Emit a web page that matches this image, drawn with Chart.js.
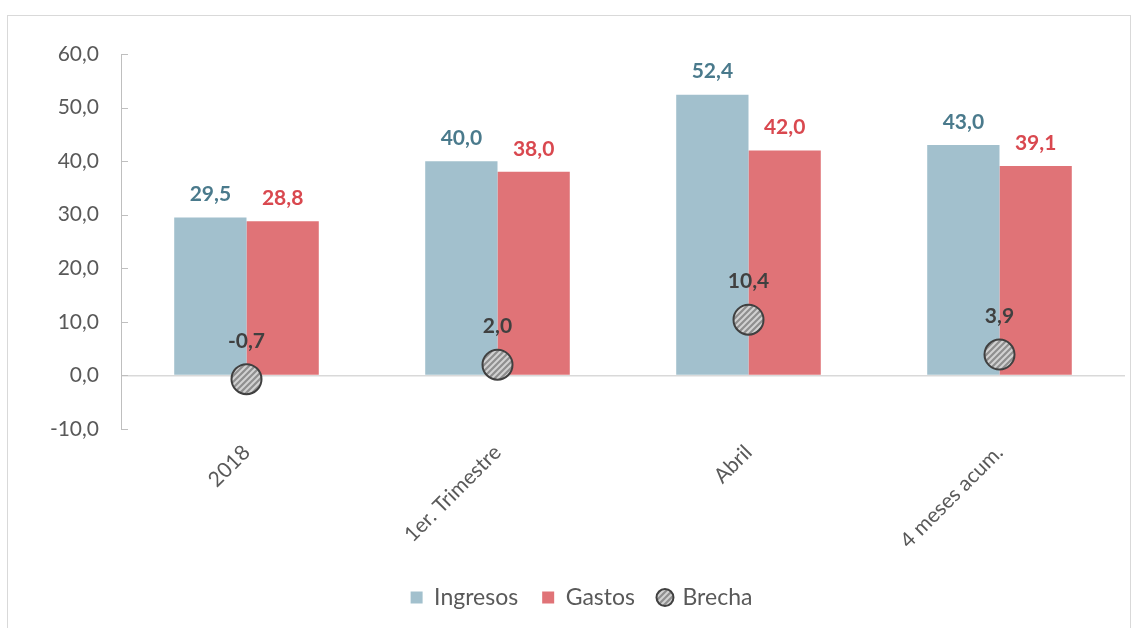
<!DOCTYPE html>
<html><head><meta charset="utf-8">
<script src="https://cdn.jsdelivr.net/npm/chart.js@4"></script>
<style>
html,body{margin:0;padding:0;background:#fff;}
#wrap{position:relative;width:1135px;height:628px;}
#frame{position:absolute;left:7px;top:15px;width:1124px;height:620px;border:1px solid #d9d9d9;box-sizing:border-box;}
canvas{position:absolute;left:0;top:0;}
</style></head>
<body><div id="wrap"><div id="frame"></div><canvas id="c" width="1135" height="628"></canvas></div>
<script>
const categories = ['2018', '1er. Trimestre', 'Abril', '4 meses acum.'];
const ingresos = [29.5, 40.0, 52.4, 43.0];
const gastos = [28.8, 38.0, 42.0, 39.1];
const brecha = [-0.7, 2.0, 10.4, 3.9];
const yMin = -10, yMax = 60, yStep = 10;

const FONT = 'Lato, "Open Sans", sans-serif';
const fmt = v => v.toFixed(1).replace('.', ',');

const pc = document.createElement('canvas');
pc.width = 6; pc.height = 6;
const p = pc.getContext('2d');
p.fillStyle = '#8f8f8f'; p.fillRect(0,0,6,6);
p.strokeStyle = '#d2d2d2'; p.lineWidth = 2;
p.beginPath();
p.moveTo(-1,7); p.lineTo(7,-1);
p.moveTo(-4,4); p.lineTo(4,-4);
p.moveTo(2,10); p.lineTo(10,2);
p.stroke();
const stripes = p.createPattern(pc, 'repeat');

const labelColors = ['#4a7a8c', '#d9484f', '#404040'];
const labelOffsets = [23, 23, 38];

const innerTicks = {
  id: 'innerTicks',
  beforeDatasetsDraw(chart) {
    const y = chart.scales.y, ctx = chart.ctx;
    ctx.save();
    ctx.strokeStyle = '#bfbfbf'; ctx.lineWidth = 1;
    y.ticks.forEach(t => {
      const py = Math.round(y.getPixelForValue(t.value)) + 0.5;
      ctx.beginPath(); ctx.moveTo(y.right, py); ctx.lineTo(y.right + 7, py); ctx.stroke();
    });
    ctx.restore();
  }
};

const valueLabels = {
  id: 'valueLabels',
  afterDatasetsDraw(chart) {
    const ctx = chart.ctx;
    ctx.save();
    ctx.font = 'bold 21px ' + FONT;
    ctx.textAlign = 'center';
    ctx.textBaseline = 'middle';
    chart.data.datasets.forEach((ds, i) => {
      const meta = chart.getDatasetMeta(i);
      meta.data.forEach((el, j) => {
        ctx.fillStyle = labelColors[i];
        ctx.fillText(fmt(ds.data[j]), el.x, el.y - labelOffsets[i]);
      });
    });
    ctx.restore();
  }
};

new Chart(document.getElementById('c'), {
  type: 'bar',
  data: {
    labels: categories,
    datasets: [
      { label: 'Ingresos', data: ingresos, backgroundColor: '#a2c0cd', pointStyle: 'rect',
        categoryPercentage: 0.576, barPercentage: 1.0, order: 2 },
      { label: 'Gastos', data: gastos, backgroundColor: '#e07377', pointStyle: 'rect',
        categoryPercentage: 0.576, barPercentage: 1.0, order: 2 },
      { label: 'Brecha', type: 'line', data: brecha, showLine: false,
        backgroundColor: stripes, borderColor: '#404040', borderWidth: 2,
        pointBackgroundColor: stripes, pointBorderColor: '#404040', pointBorderWidth: 2,
        pointRadius: 15, pointHoverRadius: 15, pointStyle: 'circle', order: 1 }
    ]
  },
  options: {
    responsive: false,
    animation: false,
    layout: { autoPadding: false, padding: { top: 54, right: 10, left: 38, bottom: 9 } },
    plugins: {
      tooltip: { enabled: false },
      legend: {
        position: 'bottom',
        labels: { usePointStyle: true, boxWidth: 12, boxHeight: 12, padding: 24,
          color: '#595959', font: { family: FONT, size: 23 },
          sort: (a, b) => a.datasetIndex - b.datasetIndex }
      }
    },
    scales: {
      x: {
        grid: { display: false, drawTicks: false },
        border: { display: false },
        ticks: { minRotation: 45, maxRotation: 45, padding: 11, color: '#595959',
          font: { family: FONT, size: 21 } },
        afterFit(s) { s.height = 133; s.paddingLeft = 0; s.paddingRight = 0; }
      },
      y: {
        min: yMin, max: yMax,
        ticks: { stepSize: yStep, padding: 22, color: '#595959',
          font: { family: FONT, size: 21 }, callback: v => fmt(v) },
        grid: { drawTicks: false, color: c => c.tick && c.tick.value === 0 ? '#d9d9d9' : 'rgba(0,0,0,0)', lineWidth: 1.5 },
        border: { display: true, color: '#bfbfbf', width: 1 },
        afterFit(s) { s.width = 83; }
      }
    }
  },
  plugins: [innerTicks, valueLabels]
});
</script></body></html>
